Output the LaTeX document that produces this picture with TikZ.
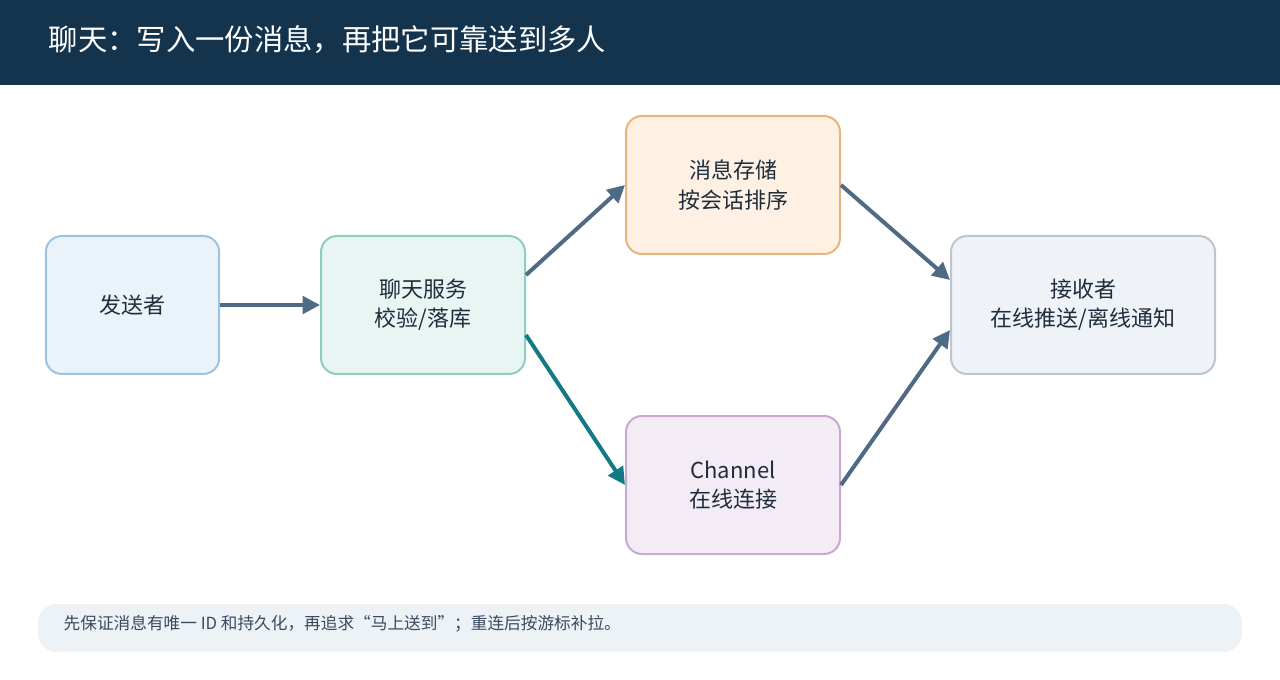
\documentclass[tikz,border=0pt]{standalone}
\usepackage{fontspec}
\setmainfont{Noto Sans CJK SC}
\usetikzlibrary{arrows.meta}
\definecolor{navy}{HTML}{14334D}
\definecolor{ink}{HTML}{1F2D3D}
\definecolor{slate}{HTML}{4E6A85}
\definecolor{teal}{HTML}{137A85}
\definecolor{sD}{HTML}{9DC3E0}\definecolor{sF}{HTML}{EAF2FA}
\definecolor{cD}{HTML}{8ECDC0}\definecolor{cF}{HTML}{E8F5F2}
\definecolor{mD}{HTML}{E6B47C}\definecolor{mF}{HTML}{FEF1E4}
\definecolor{hD}{HTML}{C9A8D2}\definecolor{hF}{HTML}{F3ECF5}
\definecolor{rD}{HTML}{BCC5D0}\definecolor{rF}{HTML}{EFF3F7}
\definecolor{fF}{HTML}{EDF2F6}\definecolor{fT}{HTML}{3A4B5E}
\begin{document}
\begin{tikzpicture}[x=0.75pt,y=-0.75pt,
  box/.style={draw, line width=1.5pt, rounded corners=12pt, align=center, text=ink,
    font=\fontsize{16.5}{22}\selectfont, inner sep=0pt},
  arr/.style={draw=slate, line width=3pt, -{Triangle[length=13pt,width=13pt]}}]
\useasboundingbox (0,0) rectangle (1280,680);
\fill[navy] (0,0) rectangle (1280,85);
\node[anchor=west, text=white, font=\fontsize{22}{26}\selectfont] (title) at (44,40) {聊天：写入一份消息，再把它可靠送到多人};
\node[box, draw=sD, fill=sF, minimum width=130pt, minimum height=103.5pt] (s) at (132.5,305) {发送者};
\node[box, draw=cD, fill=cF, minimum width=153pt, minimum height=103.5pt] (c) at (423,305) {聊天服务\\校验/落库};
\node[box, draw=mD, fill=mF, minimum width=160.5pt, minimum height=103.5pt] (m) at (733,185) {消息存储\\按会话排序};
\node[box, draw=hD, fill=hF, minimum width=160.5pt, minimum height=103.5pt] (ch) at (733,485) {Channel\\在线连接};
\node[box, draw=rD, fill=rF, minimum width=198pt, minimum height=103.5pt] (r) at (1083,305) {接收者\\在线推送/离线通知};
\draw[arr] (s.east) -- (c.west);
\draw[arr] (c.east |- 0,275) -- (m.west |- 0,185);
\draw[arr] (m.east |- 0,185) -- (r.west |- 0,280);
\draw[arr, draw=teal] (c.east |- 0,335) -- (ch.west |- 0,485);
\draw[arr] (ch.east |- 0,485) -- (r.west |- 0,330);
\node[fill=fF, rounded corners=14pt, minimum width=903pt, minimum height=36pt, inner sep=0pt] (f) at (640,628) {};
\node[anchor=west, text=fT, font=\fontsize{12.5}{15}\selectfont] (ft) at (59,624) {先保证消息有唯一 ID 和持久化，再追求“马上送到”；重连后按游标补拉。};
\end{tikzpicture}
\end{document}
